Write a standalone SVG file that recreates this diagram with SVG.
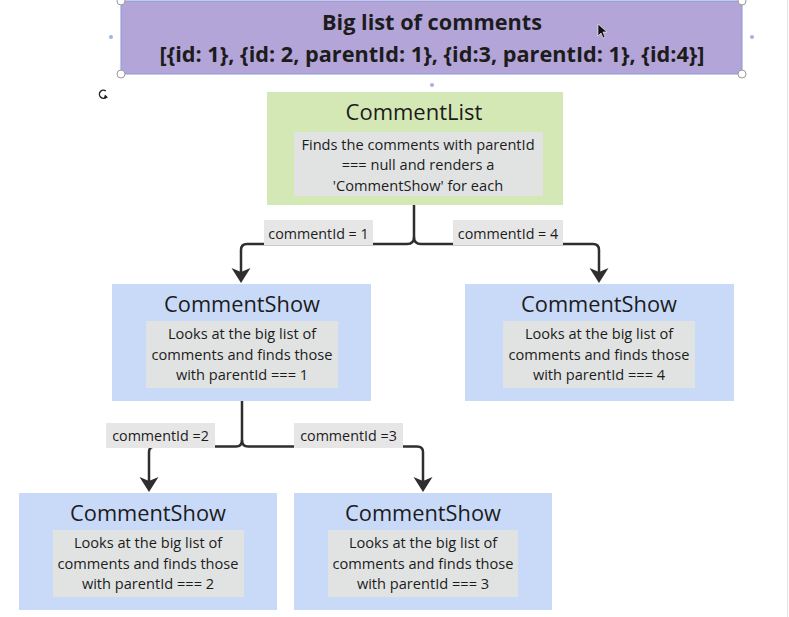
<svg xmlns="http://www.w3.org/2000/svg" width="789" height="617" viewBox="0 0 789 617">
<style>
  .t{font-family:"Open Sans","Noto Sans","Liberation Sans",sans-serif;fill:#1c1c1c;text-anchor:middle}
  .title{font-size:21.7px;font-weight:700}
  .h{font-size:21.8px}
  .b{font-size:14.6px}
  .lbl{font-size:14.3px}
  .inner{fill:#e1e3e3}
  .lb{fill:#e6e6e6}
  .show{fill:#c9daf8}
  .con{fill:none;stroke:#2e2e2e;stroke-width:2.5}
  .ah{fill:#2e2e2e}
  .hdl{fill:#fff;stroke:#9a9a9a;stroke-width:1}
  .dot{fill:#9db2e8}
</style>
<defs>
  <path id="ah" d="M0 0 L-9.5 -15 L0 -11 L9.5 -15 Z"/>
</defs>
<rect width="789" height="617" fill="#fff"/>
<line x1="787.5" y1="0" x2="787.5" y2="617" stroke="#e4e4e4" stroke-width="1"/>

<g id="biglist">
  <rect x="121" y="1" width="621" height="73" fill="#b4a5d8" stroke="#8797dc" stroke-width="1"/>
  <text class="t title" x="432" y="30">Big list of comments</text>
  <text class="t title" x="432" y="62" textLength="545" lengthAdjust="spacingAndGlyphs">[{id: 1}, {id: 2, parentId: 1}, {id:3, parentId: 1}, {id:4}]</text>
  <circle class="hdl" cx="121" cy="1" r="4"/>
  <circle class="hdl" cx="742" cy="1" r="4"/>
  <circle class="hdl" cx="121" cy="74" r="4"/>
  <circle class="hdl" cx="742" cy="74" r="4"/>
  <circle class="dot" cx="111" cy="37" r="2"/>
  <circle class="dot" cx="752" cy="37" r="2"/>
  <circle class="dot" cx="432" cy="85" r="2"/>
  <path d="M105.8 91 A4 4 0 1 0 106.5 96.8" fill="none" stroke="#222" stroke-width="1.4"/>
  <path d="M103.5 99 L108 97.5 L105 94.5 Z" fill="#222"/>
  <path d="M598 24 L598 36 L601 33 L603 38 L605 37 L603 32 L607 32 Z" fill="#111" stroke="#fff" stroke-width="0.6"/>
</g>

<g id="connectors">
  <path class="con" d="M414 205 V237 Q414 244 407 244 H247 Q241 244 241 250 V272"/>
  <path class="con" d="M414 237 Q414 244 421 244 H593 Q599 244 599 250 V272"/>
  <use href="#ah" class="ah" x="241" y="283"/>
  <use href="#ah" class="ah" x="599" y="283"/>
  <path class="con" d="M242 400 V440 Q242 446.5 236 446.5 H155 Q149 446.5 149 452 V481"/>
  <path class="con" d="M242 440 Q242 446.5 248 446.5 H417 Q423 446.5 423 452 V481"/>
  <use href="#ah" class="ah" x="149" y="492"/>
  <use href="#ah" class="ah" x="423" y="492"/>
  <g id="label1"><rect class="lb" x="264" y="220" width="109" height="25"/><text class="t lbl" x="318.5" y="239">commentId = 1</text></g>
  <g id="label4"><rect class="lb" x="453" y="220" width="110" height="25"/><text class="t lbl" x="508" y="239">commentId = 4</text></g>
  <g id="label2"><rect class="lb" x="106" y="423" width="109" height="25"/><text class="t lbl" x="160.5" y="441">commentId =2</text></g>
  <g id="label3"><rect class="lb" x="294" y="423" width="109" height="25"/><text class="t lbl" x="348.5" y="441">commentId =3</text></g>
</g>

<g id="commentlist">
  <rect x="267" y="92" width="296" height="113" fill="#d4e8b6"/>
  <rect class="inner" x="294" y="132" width="249" height="64"/>
  <text class="t" x="414" y="120" font-size="22">CommentList</text>
  <text class="t b" x="418" y="150">Finds the comments with parentId</text>
  <text class="t b" x="418" y="170">=== null and renders a</text>
  <text class="t b" x="418" y="191">'CommentShow' for each</text>
</g>

<g id="show1">
  <rect class="show" x="112" y="284" width="259" height="117"/>
  <rect class="inner" x="146" y="321" width="192" height="67"/>
  <text class="t h" x="242" y="312">CommentShow</text>
  <text class="t b" x="242" y="339">Looks at the big list of</text>
  <text class="t b" x="242" y="360">comments and finds those</text>
  <text class="t b" x="242" y="380">with parentId === 1</text>
</g>

<g id="show4">
  <rect class="show" x="465" y="284" width="269" height="117"/>
  <rect class="inner" x="503" y="321" width="192" height="67"/>
  <text class="t h" x="599" y="312">CommentShow</text>
  <text class="t b" x="599" y="339">Looks at the big list of</text>
  <text class="t b" x="599" y="360">comments and finds those</text>
  <text class="t b" x="599" y="380">with parentId === 4</text>
</g>

<g id="show2">
  <rect class="show" x="19" y="493" width="258" height="117"/>
  <rect class="inner" x="53" y="530" width="191" height="67"/>
  <text class="t h" x="148" y="521">CommentShow</text>
  <text class="t b" x="148" y="548">Looks at the big list of</text>
  <text class="t b" x="148" y="569">comments and finds those</text>
  <text class="t b" x="148" y="589">with parentId === 2</text>
</g>

<g id="show3">
  <rect class="show" x="294" y="493" width="258" height="117"/>
  <rect class="inner" x="328" y="530" width="190" height="67"/>
  <text class="t h" x="423" y="521">CommentShow</text>
  <text class="t b" x="423" y="548">Looks at the big list of</text>
  <text class="t b" x="423" y="569">comments and finds those</text>
  <text class="t b" x="423" y="589">with parentId === 3</text>
</g>
</svg>
